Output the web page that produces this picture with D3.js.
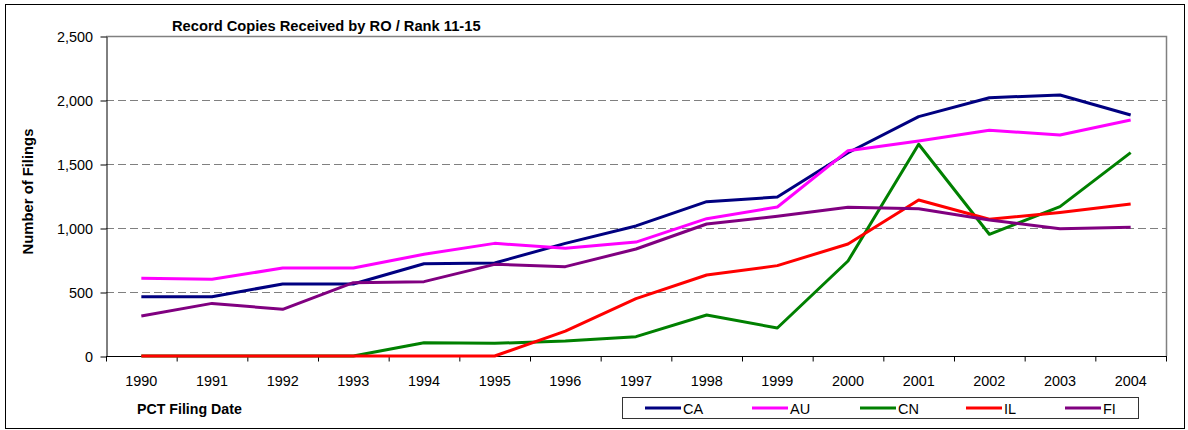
<!DOCTYPE html>
<html>
<head>
<meta charset="utf-8">
<script src="https://cdn.jsdelivr.net/npm/d3@7.9.0/dist/d3.min.js"></script>
<style>
  html, body { margin: 0; padding: 0; background: #fff; }
  svg text { font-family: "Liberation Sans", Arial, sans-serif; }
</style>
</head>
<body>
<svg id="chart" width="1188" height="430"></svg>
<script>
const years = ['1990','1991','1992','1993','1994','1995','1996','1997','1998','1999','2000','2001','2002','2003','2004'];
const yTicks = [0, 500, 1000, 1500, 2000, 2500];

const CA = [463, 463, 563, 563, 721, 727, 880, 1016, 1206, 1242, 1588, 1870, 2018, 2039, 1883];
const AU = [607, 599, 687, 687, 795, 880, 841, 890, 1073, 1164, 1604, 1680, 1763, 1727, 1844];
const CN = [0, 0, 0, 0, 104, 99, 117, 151, 320, 219, 742, 1654, 951, 1167, 1589];
const IL = [0, 0, 0, 0, 0, 0, 195, 448, 633, 706, 875, 1219, 1068, 1122, 1188];
const FI = [313, 411, 365, 573, 581, 716, 698, 836, 1031, 1091, 1162, 1151, 1063, 995, 1005];

const series = [
  { name: 'CA', values: CA, color: '#000080' },
  { name: 'AU', values: AU, color: '#FF00FF' },
  { name: 'CN', values: CN, color: '#008000' },
  { name: 'IL', values: IL, color: '#FF0000' },
  { name: 'FI', values: FI, color: '#800080' }
];

const svg = d3.select('#chart');
const plot = { left: 106, right: 1166, top: 36, bottom: 356 };

// outer frame
svg.append('rect')
  .attr('x', 5.5).attr('y', 4.5)
  .attr('width', 1179).attr('height', 424)
  .attr('fill', '#fff').attr('stroke', '#000').attr('stroke-width', 1);

const x = d3.scaleBand().domain(years).range([plot.left, plot.right]);
const y = d3.scaleLinear().domain([0, 2500]).range([plot.bottom, plot.top]);

// gridlines
svg.append('g')
  .selectAll('line')
  .data(yTicks.filter(d => d > 0 && d < 2500))
  .join('line')
    .attr('x1', plot.left).attr('x2', plot.right)
    .attr('y1', d => y(d) + 0.5).attr('y2', d => y(d) + 0.5)
    .attr('stroke', '#808080')
    .attr('stroke-dasharray', '8,4');

// plot border top / right
svg.append('path')
  .attr('d', `M${plot.left},${plot.top + 0.5}H${plot.right + 0.5}V${plot.bottom}`)
  .attr('fill', 'none').attr('stroke', '#808080').attr('stroke-width', 1.5);

// y axis
const yAxis = svg.append('g')
  .attr('transform', `translate(${plot.left + 0.5},0.5)`)
  .call(d3.axisLeft(y).tickValues(yTicks).tickSize(6).tickSizeOuter(0)
    .tickFormat(d3.format(',')));
yAxis.select('.domain').attr('stroke', '#000');
yAxis.selectAll('text')
  .attr('font-size', 14.4).attr('fill', '#000').attr('x', -13.5).attr('dy', '0.36em');

// x axis with ticks at band edges
const xAxis = svg.append('g')
  .attr('transform', `translate(0,${plot.bottom + 0.5})`);
xAxis.append('line')
  .attr('x1', plot.left).attr('x2', plot.right + 1)
  .attr('stroke', '#000');
xAxis.selectAll('line.tk')
  .data(years.concat(['end']))
  .join('line')
    .attr('class', 'tk')
    .attr('x1', d => (d === 'end' ? plot.right : x(d)) + 0.5)
    .attr('x2', d => (d === 'end' ? plot.right : x(d)) + 0.5)
    .attr('y1', 0).attr('y2', 5)
    .attr('stroke', '#000');
xAxis.selectAll('text')
  .data(years)
  .join('text')
    .attr('x', d => x(d) + x.bandwidth() / 2)
    .attr('y', 29)
    .attr('text-anchor', 'middle')
    .attr('font-size', 14.4)
    .text(d => d);

// lines
const line = d3.line()
  .x((d, i) => x(years[i]) + x.bandwidth() / 2)
  .y(d => y(d));

svg.append('g')
  .selectAll('path')
  .data(series)
  .join('path')
    .attr('d', d => line(d.values))
    .attr('fill', 'none')
    .attr('stroke', d => d.color)
    .attr('stroke-width', 3)
    .attr('stroke-linejoin', 'round');

// titles
svg.append('text')
  .attr('x', 172).attr('y', 30.5)
  .attr('font-size', 14.7).attr('font-weight', 'bold')
  .text('Record Copies Received by RO / Rank 11-15');

svg.append('text')
  .attr('transform', 'translate(32.5,191.5) rotate(-90)')
  .attr('text-anchor', 'middle')
  .attr('font-size', 14.8).attr('font-weight', 'bold')
  .text('Number of Filings');

svg.append('text')
  .attr('x', 137).attr('y', 414)
  .attr('font-size', 14.2).attr('font-weight', 'bold')
  .text('PCT Filing Date');

// legend
const legend = svg.append('g');
legend.append('rect')
  .attr('x', 622.5).attr('y', 397.5)
  .attr('width', 516).attr('height', 21)
  .attr('fill', '#fff').attr('stroke', '#333').attr('stroke-width', 1);

const legendX = [645, 752, 860, 966, 1065];
const items = legend.selectAll('g.item')
  .data(series)
  .join('g')
    .attr('class', 'item')
    .attr('transform', (d, i) => `translate(${legendX[i]},408)`);
items.append('line')
  .attr('x1', 0).attr('x2', 36)
  .attr('stroke', d => d.color).attr('stroke-width', 3);
items.append('text')
  .attr('x', 38).attr('y', 5.5)
  .attr('font-size', 14.5)
  .text(d => d.name);
</script>
</body>
</html>
